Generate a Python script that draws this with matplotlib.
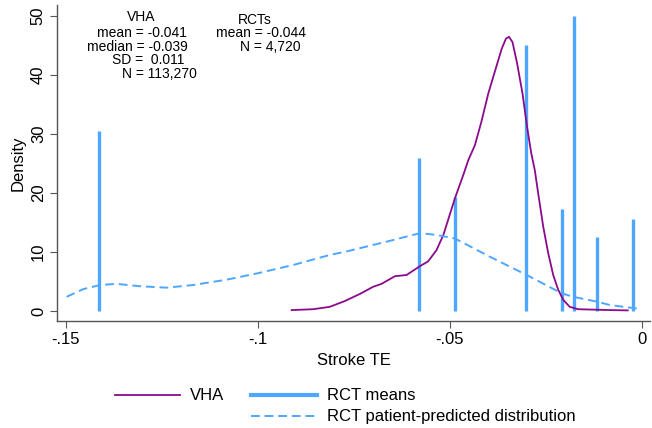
import matplotlib
matplotlib.use('Agg')
import matplotlib.pyplot as plt
from matplotlib.lines import Line2D

plt.rcParams['font.family'] = ['Liberation Sans', 'DejaVu Sans']

# RCT means: position (TE) and bar height (density)
rct_x = [-0.1414, -0.0580, -0.0486, -0.0301, -0.0208, -0.0178, -0.0116, -0.0023]
rct_h = [30.5, 26.0, 19.3, 45.1, 17.3, 50.0, 12.5, 15.6]

# VHA kernel density
vha_x = [-0.0912, -0.0856, -0.0813, -0.0773, -0.0734, -0.0700, -0.0678, -0.0643,
         -0.0613, -0.0578, -0.0557, -0.0535, -0.0517, -0.0487, -0.0465, -0.0452,
         -0.0435, -0.0418, -0.0400, -0.0383, -0.0365, -0.0354, -0.0346, -0.0337,
         -0.0325, -0.0311, -0.0299, -0.0288, -0.0279, -0.0270, -0.0257, -0.0244,
         -0.0231, -0.0218, -0.0205, -0.0188, -0.0166, -0.0083, -0.0037]
vha_y = [0.15, 0.3, 0.7, 1.7, 2.9, 4.1, 4.6, 5.9,
         6.1, 7.6, 8.4, 10.3, 12.9, 19.1, 23.1, 25.6,
         28.1, 32.1, 36.9, 40.6, 44.5, 46.2, 46.5, 45.6,
         42.0, 36.9, 31.2, 26.7, 23.9, 19.9, 14.3, 9.8,
         6.1, 3.6, 1.9, 0.7, 0.3, 0.15, 0.1]

# RCT patient-predicted distribution
pp_x = [-0.1498, -0.1455, -0.1411, -0.1368, -0.1307, -0.1238, -0.1169, -0.1082,
        -0.1000, -0.0908, -0.0813, -0.0769, -0.0656, -0.0578, -0.0535, -0.0487,
        -0.0396, -0.0300, -0.0209, -0.0179, -0.0118, -0.0083, -0.0010]
pp_y = [2.4, 3.7, 4.4, 4.6, 4.2, 3.95, 4.4, 5.3,
        6.4, 7.8, 9.5, 10.1, 11.9, 13.2, 12.9, 12.3,
        9.2, 6.1, 3.0, 2.4, 1.6, 1.0, 0.4]

c_vha = '#8b0a8b'
c_rct = '#4da6ff'

fig = plt.figure(figsize=(6.52, 4.28), dpi=100)
ax = fig.add_axes([57/652, 1 - 321/428, (650 - 57)/652, (321 - 5)/428])

ax.vlines(rct_x, 0, rct_h, color=c_rct, lw=2.4)
ax.plot(vha_x, vha_y, color=c_vha, lw=1.3)
ax.plot(pp_x, pp_y, color=c_rct, lw=1.4, ls=(0, (4.5, 2.5)))

ax.set_xlim(-0.1523, 0.0021)
ax.set_ylim(-1.7, 51.9)
ax.set_xticks([-0.15, -0.1, -0.05, 0])
ax.set_xticklabels(['-.15', '-.1', '-.05', '0'])
ax.set_yticks([0, 10, 20, 30, 40, 50])
ax.set_yticklabels(['0', '10', '20', '30', '40', '50'], rotation=90, va='center')
for s in ['top', 'right']:
    ax.spines[s].set_visible(False)
for s in ['left', 'bottom']:
    ax.spines[s].set_color('#555555')
    ax.spines[s].set_linewidth(1.0)
ax.tick_params(labelsize=12, length=5, color='#555555', pad=3)
ax.set_xlabel('Stroke TE', fontsize=12, labelpad=4)
ax.set_ylabel('Density', fontsize=12, labelpad=4)

def px(x, y):
    return ((x - 642) / 3840, (311 - y) / 5.9)

tk = dict(fontsize=10, va='center', transform=ax.transData)
ax.text(*px(141, 17), 'VHA', ha='center', **tk)
ax.text(*px(97, 33), 'mean = -0.041', ha='left', **tk)
ax.text(*px(87, 47), 'median = -0.039', ha='left', **tk)
ax.text(*px(112, 60), 'SD =  0.011', ha='left', **tk)
ax.text(*px(122, 74), 'N = 113,270', ha='left', **tk)
ax.text(*px(255, 20), 'RCTs', ha='center', **tk)
ax.text(*px(216, 33), 'mean = -0.044', ha='left', **tk)
ax.text(*px(240, 47), 'N = 4,720', ha='left', **tk)

# legend drawn by hand to match layout
def fx(p):
    return p / 652
def fy(p):
    return 1 - p / 428

fig.add_artist(Line2D([fx(115), fx(180)], [fy(395), fy(395)], color=c_vha, lw=1.3))
fig.text(fx(190), fy(395), 'VHA', fontsize=12, va='center')
fig.add_artist(Line2D([fx(251), fx(317)], [fy(395), fy(395)], color=c_rct, lw=3.0))
fig.text(fx(327), fy(395), 'RCT means', fontsize=12, va='center')
fig.add_artist(Line2D([fx(251), fx(317)], [fy(416), fy(416)], color=c_rct, lw=1.4,
                      ls=(0, (4.5, 2.5))))
fig.text(fx(327), fy(416), 'RCT patient-predicted distribution', fontsize=12, va='center')

fig.savefig('out.png', dpi=100, facecolor='white')
